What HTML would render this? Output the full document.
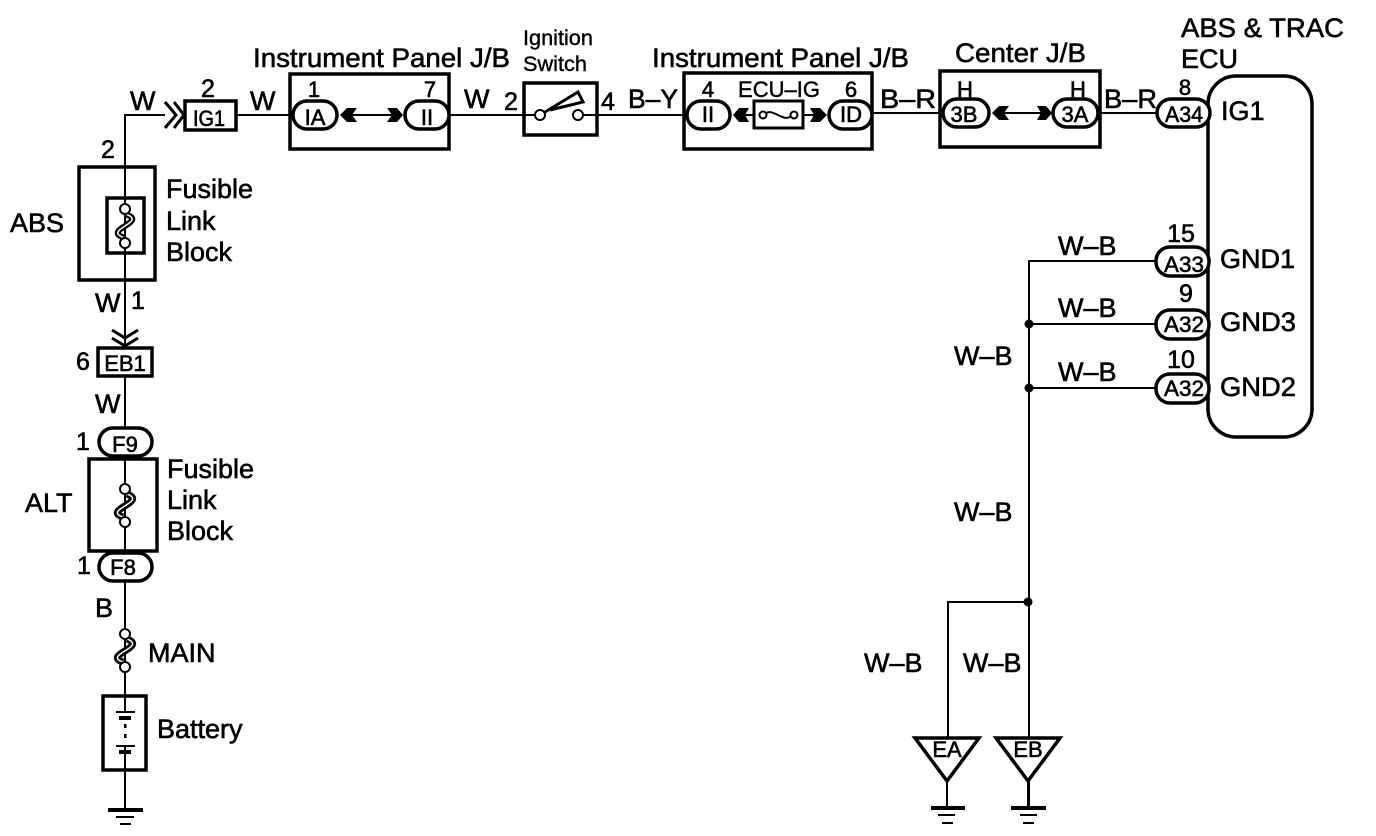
<!DOCTYPE html>
<html><head><meta charset="utf-8"><title>ABS &amp; TRAC ECU wiring diagram</title>
<style>
html,body{margin:0;padding:0;background:#fff}
svg{display:block}
text{font-family:"Liberation Sans",sans-serif;fill:#000;stroke:#000;stroke-width:.6}
.l{font-size:27px}.m{font-size:25px}.s{font-size:22px}.c{text-anchor:middle}
.b{fill:none;stroke:#000;stroke-width:3.5}
.p{fill:#fff;stroke:#000;stroke-width:3.5}
.w{fill:none;stroke:#000;stroke-width:2}
.o{fill:#fff;stroke:#000;stroke-width:2}
.k{fill:#000;stroke:none}
.f1{fill:none;stroke:#000;stroke-width:7}
.f2{fill:none;stroke:#fff;stroke-width:1.5}
</style></head><body>
<svg width="1376" height="836" viewBox="0 0 1376 836" xmlns="http://www.w3.org/2000/svg">
<rect width="1376" height="836" fill="#fff"/>

<!-- wires -->
<path class="w" d="M125 280V167M125 167V115H165M236 115H290M449 115H524M597 115H684M872 113H940M1100 113H1157"/>
<path class="w" d="M125 280V348M125 376V428M125 456V553M125 581V696M125 770V810"/>
<path class="w" d="M1156 261H1029V807M1029 324H1156M1029 388H1156M1029 602H948V737"/>
<path class="w" d="M947 782V807M1028 782V807" />
<circle class="k" cx="1029" cy="324" r="4.5"/><circle class="k" cx="1029" cy="388" r="4.5"/><circle class="k" cx="1028" cy="602" r="4.5"/>

<!-- left column -->
<path style="fill:none;stroke:#000;stroke-width:3" d="M165 102L176 115L165 128M174 102L184 115L174 128"/>
<rect class="b" x="185" y="101" width="51" height="29"/>
<rect class="b" x="79" y="167" width="76" height="113"/>
<rect class="p" x="107" y="198" width="37" height="55"/>
<path class="w" d="M125 198V253"/>
<path class="f1" style="stroke-width:6" d="M125 214C150 222 100 230 125 238"/>
<path class="f2" d="M125 214C150 222 100 230 125 238"/>
<circle class="o" cx="125" cy="209" r="5"/><circle class="o" cx="125" cy="243" r="5"/>
<path style="fill:none;stroke:#000;stroke-width:3" d="M112 330L125 338L138 330M112 338L125 346L138 338"/>
<rect class="p" x="98" y="348" width="54" height="28"/>

<rect class="p" x="89" y="459" width="68" height="92"/>
<path class="w" d="M125 459V551"/>
<rect class="p" x="99" y="428" width="53" height="28" rx="14"/>
<rect class="p" x="99" y="553" width="53" height="28" rx="14"/>
<path class="f1" d="M127 494C148 502 102 510 123 517"/><path class="f2" d="M127 494C148 502 102 510 123 517"/>
<circle class="o" cx="125" cy="489" r="5"/><circle class="o" cx="125" cy="522" r="5"/>
<path class="f1" d="M127 639C148 647 102 655 123 662"/><path class="f2" d="M127 639C148 647 102 655 123 662"/>
<circle class="o" cx="125" cy="634" r="5"/><circle class="o" cx="125" cy="667" r="5"/>
<rect class="p" x="103" y="696" width="43" height="74"/>
<path class="w" d="M125 696V712M125 752V770"/>
<path class="w" d="M116 712H135M116 746H135M125 746V752"/>
<rect class="k" x="119" y="716" width="12" height="4"/><rect class="k" x="119" y="750" width="12" height="4"/>
<rect class="k" x="124" y="724" width="2.5" height="4"/><rect class="k" x="124" y="734" width="2.5" height="4"/>
<rect class="k" x="108" y="808" width="35" height="4"/><rect class="k" x="116" y="816" width="18" height="2"/><rect class="k" x="120" y="823" width="11" height="2"/>

<!-- J/B 1 -->
<rect class="b" x="290" y="74" width="159" height="75"/>
<rect class="p" x="293" y="101" width="44" height="28" rx="14"/>
<rect class="p" x="405" y="101" width="44" height="28" rx="14"/>
<path class="w" d="M350 115H395"/>
<polygon class="k" points="340,115 347,108 357,108 352,115 357,122 347,122"/>
<polygon class="k" points="387,108 397,108 403,115 397,122 387,122 392,115"/>

<!-- Switch -->
<rect class="p" x="524" y="83" width="73" height="52"/>
<path class="w" d="M524 115H535M583 115H597"/>
<circle class="o" cx="540" cy="115" r="5"/><circle class="o" cx="578" cy="115" r="5"/>
<path style="fill:none;stroke:#000;stroke-width:3" d="M545 112L578 92L583 102L550 110"/>

<!-- J/B 2 -->
<rect class="b" x="684" y="73" width="188" height="76"/>
<path class="w" d="M740 115H820"/>
<rect class="p" x="687" y="101" width="43" height="28" rx="14"/>
<rect class="p" x="829" y="101" width="43" height="28" rx="14"/>
<rect class="p" x="754" y="101" width="49" height="27" style="stroke-width:3"/>
<path class="w" d="M764 115C772 105 784 125 792 115"/>
<circle class="o" cx="763" cy="115" r="3.5"/><circle class="o" cx="794" cy="115" r="3.5"/>
<polygon class="k" points="733,115 739,108 749,108 745,115 749,122 739,122"/>
<polygon class="k" points="810,108 820,108 827,115 820,122 810,122 814,115"/>

<!-- Center J/B -->
<rect class="b" x="940" y="71" width="160" height="76"/>
<rect class="p" x="943" y="99" width="46" height="28" rx="14"/>
<rect class="p" x="1053" y="99" width="45" height="28" rx="14"/>
<path class="w" d="M1000 113H1045"/>
<polygon class="k" points="992,113 999,106 1009,106 1004,113 1009,120 999,120"/>
<polygon class="k" points="1037,106 1046,106 1052,113 1046,120 1037,120 1041,113"/>

<!-- ECU -->
<rect class="p" x="1208" y="76" width="104" height="361" rx="28"/>
<rect class="p" x="1157" y="99" width="53" height="28" rx="14"/>
<rect class="p" x="1156" y="247" width="53" height="29" rx="14"/>
<rect class="p" x="1156" y="310" width="53" height="29" rx="14"/>
<rect class="p" x="1156" y="374" width="53" height="29" rx="14"/>

<!-- grounds -->
<polygon style="fill:#fff;stroke:#000;stroke-width:3.5" points="915,738 979,738 947,781"/>
<polygon style="fill:#fff;stroke:#000;stroke-width:3.5" points="996,738 1060,738 1028,781"/>
<rect class="k" x="931" y="806" width="34" height="4"/><rect class="k" x="938" y="814" width="17" height="2"/><rect class="k" x="942" y="822" width="11" height="2"/>
<rect class="k" x="1011" y="806" width="35" height="4"/><rect class="k" x="1020" y="814" width="17" height="2"/><rect class="k" x="1023" y="822" width="11" height="2"/>

<!-- labels -->
<text class="l" x="130" y="110">W</text>
<text class="m c" x="208" y="97">2</text>
<text class="s c" x="209" y="126" textLength="32" lengthAdjust="spacingAndGlyphs">IG1</text>
<text class="l" x="250" y="110">W</text>
<text class="m" x="101" y="158">2</text>
<text class="l" x="166" y="198">Fusible</text>
<text class="l" x="166" y="230">Link</text>
<text class="l" x="166" y="261">Block</text>
<text class="l" x="10" y="232">ABS</text>
<text class="l" x="95" y="312">W</text>
<text class="m" x="131" y="309">1</text>
<text class="m" x="76" y="370">6</text>
<text class="s c" x="125" y="371">EB1</text>
<text class="l" x="95" y="413">W</text>
<text class="m" x="76" y="450">1</text>
<text class="s c" x="125" y="452">F9</text>
<text class="l" x="167" y="478">Fusible</text>
<text class="l" x="167" y="509">Link</text>
<text class="l" x="167" y="540">Block</text>
<text class="l" x="25" y="512">ALT</text>
<text class="m" x="77" y="574">1</text>
<text class="s c" x="123" y="575">F8</text>
<text class="l" x="95" y="617">B</text>
<text class="l" x="148" y="662">MAIN</text>
<text class="l" x="157" y="738">Battery</text>

<text class="l" x="253" y="67" textLength="257" lengthAdjust="spacingAndGlyphs">Instrument Panel J/B</text>
<text class="s c" x="314" y="97">1</text>
<text class="s c" x="430" y="97">7</text>
<text class="s c" x="315" y="125">IA</text>
<text class="s c" x="427" y="125">II</text>
<text x="523" y="45" style="font-size:21.7px;stroke-width:.4">Ignition</text>
<text x="523" y="71" style="font-size:21.7px;stroke-width:.4">Switch</text>
<text class="l" x="464" y="108">W</text>
<text class="m" x="504" y="110">2</text>
<text class="m" x="601" y="110">4</text>
<text class="l" x="628" y="108" textLength="50" lengthAdjust="spacingAndGlyphs">B–Y</text>

<text class="l" x="652" y="67" textLength="257" lengthAdjust="spacingAndGlyphs">Instrument Panel J/B</text>
<text class="s c" x="708" y="97">4</text>
<text x="738" y="97" style="font-size:22px;stroke-width:.4" textLength="82" lengthAdjust="spacingAndGlyphs">ECU–IG</text>
<text class="s c" x="851" y="97">6</text>
<text class="s c" x="708" y="122">II</text>
<text class="s c" x="851" y="122">ID</text>
<text class="l" x="880" y="108" textLength="56" lengthAdjust="spacingAndGlyphs">B–R</text>

<text class="l" x="955" y="62" textLength="131" lengthAdjust="spacingAndGlyphs">Center J/B</text>
<text class="s c" x="965" y="97">H</text>
<text class="s c" x="1078" y="97">H</text>
<text class="s c" x="964" y="122">3B</text>
<text class="s c" x="1075" y="122">3A</text>
<text class="l" x="1104" y="108" textLength="53" lengthAdjust="spacingAndGlyphs">B–R</text>

<text class="l" x="1181" y="37" textLength="163" lengthAdjust="spacingAndGlyphs">ABS &amp; TRAC</text>
<text class="l" x="1181" y="68">ECU</text>
<text class="s c" x="1185" y="95">8</text>
<text class="s c" x="1184" y="122" textLength="38" lengthAdjust="spacingAndGlyphs">A34</text>
<text class="l" x="1221" y="120">IG1</text>

<text class="l" x="1058" y="255">W–B</text>
<text class="l" x="1058" y="317">W–B</text>
<text class="l" x="1058" y="381">W–B</text>
<text class="m c" x="1181" y="242">15</text>
<text class="m c" x="1186" y="302">9</text>
<text class="m c" x="1181" y="368">10</text>
<text class="s c" x="1184" y="272" textLength="40" lengthAdjust="spacingAndGlyphs">A33</text>
<text class="s c" x="1184" y="332" textLength="40" lengthAdjust="spacingAndGlyphs">A32</text>
<text class="s c" x="1184" y="396" textLength="40" lengthAdjust="spacingAndGlyphs">A32</text>
<text class="l" x="1220" y="268" textLength="75" lengthAdjust="spacingAndGlyphs">GND1</text>
<text class="l" x="1220" y="331" textLength="76" lengthAdjust="spacingAndGlyphs">GND3</text>
<text class="l" x="1220" y="396" textLength="76" lengthAdjust="spacingAndGlyphs">GND2</text>
<text class="l" x="954" y="365">W–B</text>
<text class="l" x="954" y="521">W–B</text>
<text class="l" x="864" y="672">W–B</text>
<text class="l" x="963" y="672">W–B</text>
<text class="s c" x="947" y="757">EA</text>
<text class="s c" x="1028" y="757">EB</text>
</svg>
</body></html>
